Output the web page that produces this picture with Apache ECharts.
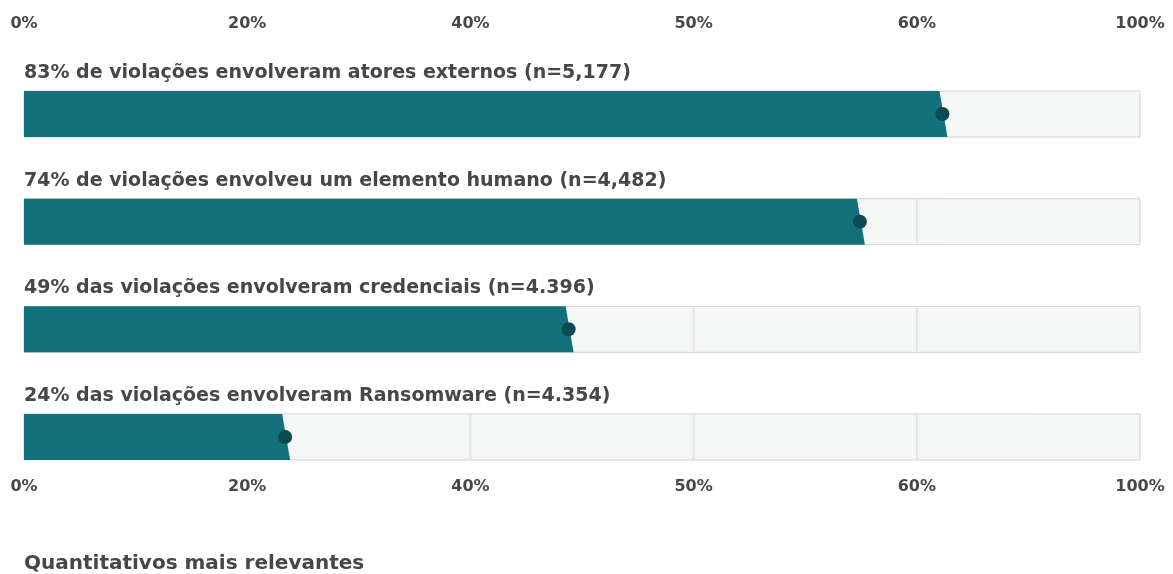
<!DOCTYPE html>
<html><head><meta charset="utf-8">
<script src="https://cdn.jsdelivr.net/npm/echarts@6/dist/echarts.min.js"></script>
<style>html,body{margin:0;padding:0;background:#fff}#c{width:1173px;height:574px}</style>
</head><body><div id="c"></div>
<script>
const categories = [
  '83% de violações envolveram atores externos (n=5,177)',
  '74% de violações envolveu um elemento humano (n=4,482)',
  '49% das violações envolveram credenciais (n=4.396)',
  '24% das violações envolveram Ransomware (n=4.354)'
];
const values = [82.3, 74.9, 48.8, 23.4];
const tickLabels = ['0%', '20%', '40%', '50%', '60%', '100%'];
const gridValues = [20, 40, 60, 80];
const pageTitle = 'Quantitativos mais relevantes';

const FONT = '"DejaVu Sans", sans-serif';
const TEAL = '#13717b';
const DOT = '#0b4a52';
const TXT = '#474747';

const data = categories.map((c, i) => [i, values[i], c]);

const chart = echarts.init(document.getElementById('c'), null, {renderer: 'canvas'});
const axisCommon = {
  type: 'value', min: 0, max: 100, interval: 20,
  axisLine: {show: false}, axisTick: {show: false}, splitLine: {show: false},
  axisLabel: {
    color: TXT, fontFamily: FONT, fontSize: 16, fontWeight: 600,
    formatter: v => tickLabels[Math.round(v / 20)]
  }
};
chart.setOption({
  animation: false,
  title: {
    text: pageTitle, left: 19, top: 549,
    textStyle: {color: TXT, fontFamily: FONT, fontSize: 20, fontWeight: 600}
  },
  grid: {left: 24, right: 33, top: 91, bottom: 114},
  xAxis: [
    Object.assign({}, axisCommon, {position: 'top', axisLabel: Object.assign({}, axisCommon.axisLabel, {margin: 59})}),
    Object.assign({}, axisCommon, {position: 'bottom', axisLabel: Object.assign({}, axisCommon.axisLabel, {margin: 19})})
  ],
  yAxis: {type: 'value', inverse: true, min: -0.214, max: 3.214, show: false},
  series: [{
    type: 'custom',
    xAxisIndex: 0,
    data: data,
    encode: {x: 1, y: 0},
    renderItem: function (params, api) {
      const i = api.value(0);
      const v = api.value(1);
      const p0 = api.coord([0, i]);
      const p100 = api.coord([100, i]);
      const pv = api.coord([v, i]);
      const cy = p0[1];
      const hh = 23;
      const children = [];
      children.push({
        type: 'rect',
        shape: {x: p0[0], y: cy - hh, width: p100[0] - p0[0], height: hh * 2},
        style: {fill: '#f5f6f6', stroke: '#d3d3d3', lineWidth: 1}
      });
      gridValues.forEach(g => {
        const pg = api.coord([g, i]);
        children.push({
          type: 'line',
          shape: {x1: pg[0], y1: cy - hh + 1, x2: pg[0], y2: cy + hh - 1},
          style: {stroke: '#e4e5e5', lineWidth: 2}
        });
      });
      children.push({
        type: 'polygon',
        shape: {points: [[p0[0], cy - hh], [pv[0] - 3, cy - hh], [pv[0] + 5, cy + hh], [p0[0], cy + hh]]},
        style: {fill: TEAL}
      });
      children.push({
        type: 'circle',
        shape: {cx: pv[0], cy: cy, r: 7},
        style: {fill: DOT}
      });
      children.push({
        type: 'text',
        x: p0[0], y: cy - hh - 18,
        style: {
          text: api.value(2), fill: TXT, font: '600 19px ' + FONT,
          verticalAlign: 'middle', align: 'left'
        }
      });
      return {type: 'group', children: children};
    }
  }]
});
</script>
</body></html>
